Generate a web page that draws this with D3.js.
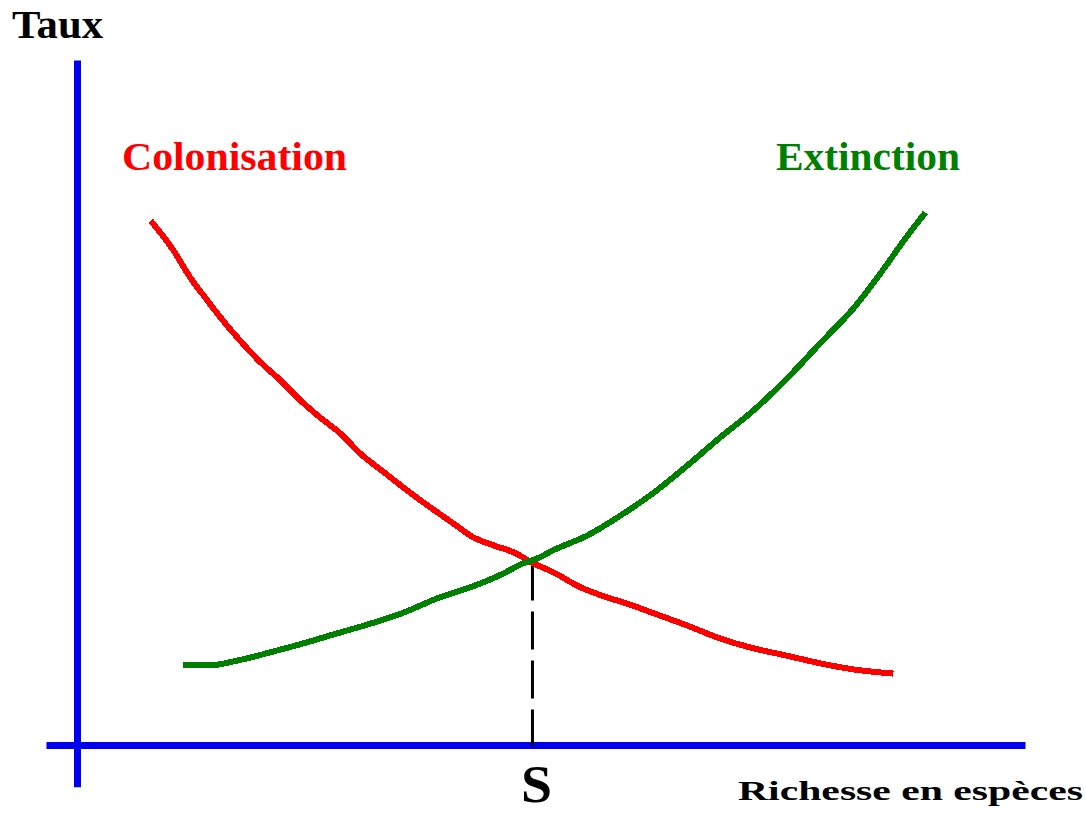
<!DOCTYPE html>
<html>
<head>
<meta charset="utf-8">
<script src="https://cdnjs.cloudflare.com/ajax/libs/d3/7.8.5/d3.min.js"></script>
<style>
body { margin: 0; background: #fff; }
text { font-family: "Liberation Serif", "Times New Roman", serif; font-weight: bold; }
</style>
</head>
<body>
<script>
// Colonisation curve: richesse en especes (x) and taux (y)
var colonisationX = [7.8, 10.2, 12.0, 13.8, 15.2, 17.3, 19.5, 21.6, 23.7, 25.8, 28.0, 30.1, 32.6, 35.1, 37.6, 40.0, 42.1, 44.3, 46.4, 48.5, 50.6, 53.5, 56.4, 58.5, 61.3, 64.9, 68.4, 71.9, 75.5, 79.0, 82.6, 86.8];
var colonisationY = [76.6, 72.3, 68.3, 65.0, 62.5, 59.1, 55.9, 53.3, 50.4, 47.9, 45.5, 42.6, 39.9, 37.2, 34.7, 32.4, 30.4, 29.2, 28.2, 26.6, 25.3, 23.1, 21.6, 20.7, 19.3, 17.5, 15.6, 14.2, 13.1, 12.0, 11.1, 10.5];

// Extinction curve
var extinctionX = [11.2, 14.1, 17.0, 20.5, 24.0, 27.7, 31.2, 34.7, 38.3, 41.8, 45.3, 47.4, 48.9, 50.6, 54.3, 57.8, 61.3, 64.9, 68.4, 71.9, 75.5, 79.0, 82.6, 86.2, 87.9, 90.2];
var extinctionY = [11.7, 11.7, 12.4, 13.6, 14.9, 16.4, 17.8, 19.4, 21.5, 23.1, 25.1, 26.6, 27.3, 28.5, 30.7, 33.6, 36.9, 40.9, 45.0, 48.9, 53.6, 58.7, 63.9, 70.4, 73.7, 77.8];

// Equilibrium point S (x, y)
var equilibriumS = [48.4, 26.7];

// How far the two blue axes run, in data units
var xAxisExtent = [-3.3, 100.85];
var yAxisExtent = [-6.1, 100];

var seriesNames = ["Colonisation", "Extinction"];
var seriesColors = ["#ff0000", "#008000"];
var axisTitles = ["Taux", "Richesse en espèces"];

var width = 1086, height = 814;

var svg = d3.select("body").append("svg")
	.attr("width", width).attr("height", height);

var x = d3.scaleLinear().domain([0, 100]).range([77.5, 1017.5]);
var y = d3.scaleLinear().domain([0, 100]).range([745.5, 60.5]);

// Blue axes
svg.append("line")
	.attr("x1", x(0)).attr("x2", x(0))
	.attr("y1", y(yAxisExtent[0])).attr("y2", y(yAxisExtent[1]))
	.style("stroke", "#0000f0").style("stroke-width", 7);
svg.append("line")
	.attr("x1", x(xAxisExtent[0])).attr("x2", x(xAxisExtent[1]))
	.attr("y1", y(0)).attr("y2", y(0))
	.style("stroke", "#0000f0").style("stroke-width", 7);

// Dashed drop line from the crossing down to the x axis
svg.append("line")
	.attr("x1", x(equilibriumS[0])).attr("x2", x(equilibriumS[0]))
	.attr("y1", y(equilibriumS[1])).attr("y2", y(0))
	.style("stroke", "#000").style("stroke-width", 3)
	.style("stroke-dasharray", "38 11");

var line = d3.line()
	.x(function(d){return x(d[0]);})
	.y(function(d){return y(d[1]);})
	.curve(d3.curveMonotoneX);

var series = [d3.zip(colonisationX, colonisationY), d3.zip(extinctionX, extinctionY)];

svg.selectAll("path.curve").data(series).enter()
	.append("path")
	.attr("class", "curve")
	.attr("d", line)
	.style("fill", "none")
	.style("stroke", function(d,i){return seriesColors[i];})
	.style("stroke-width", 6)
	.style("shape-rendering", "crispEdges");

// Curve labels
svg.append("text").attr("x", 122).attr("y", 170)
	.attr("textLength", 225).attr("lengthAdjust", "spacingAndGlyphs")
	.style("font-size", "41px").style("fill", seriesColors[0])
	.text(seriesNames[0]);
svg.append("text").attr("x", 776).attr("y", 170)
	.attr("textLength", 184).attr("lengthAdjust", "spacingAndGlyphs")
	.style("font-size", "41px").style("fill", seriesColors[1])
	.text(seriesNames[1]);

// Axis titles
svg.append("text").attr("x", 12).attr("y", 38)
	.attr("textLength", 91).attr("lengthAdjust", "spacingAndGlyphs")
	.style("font-size", "40px").style("fill", "#000")
	.text(axisTitles[0]);
svg.append("text").attr("x", 738).attr("y", 800)
	.attr("textLength", 345).attr("lengthAdjust", "spacingAndGlyphs")
	.style("font-size", "27px").style("fill", "#000")
	.text(axisTitles[1]);

// S under the drop line
svg.append("text").attr("x", x(equilibriumS[0]) + 4).attr("y", 802)
	.attr("text-anchor", "middle")
	.attr("textLength", 31).attr("lengthAdjust", "spacingAndGlyphs")
	.style("font-size", "52px").style("fill", "#000")
	.text("S");
</script>
</body>
</html>
